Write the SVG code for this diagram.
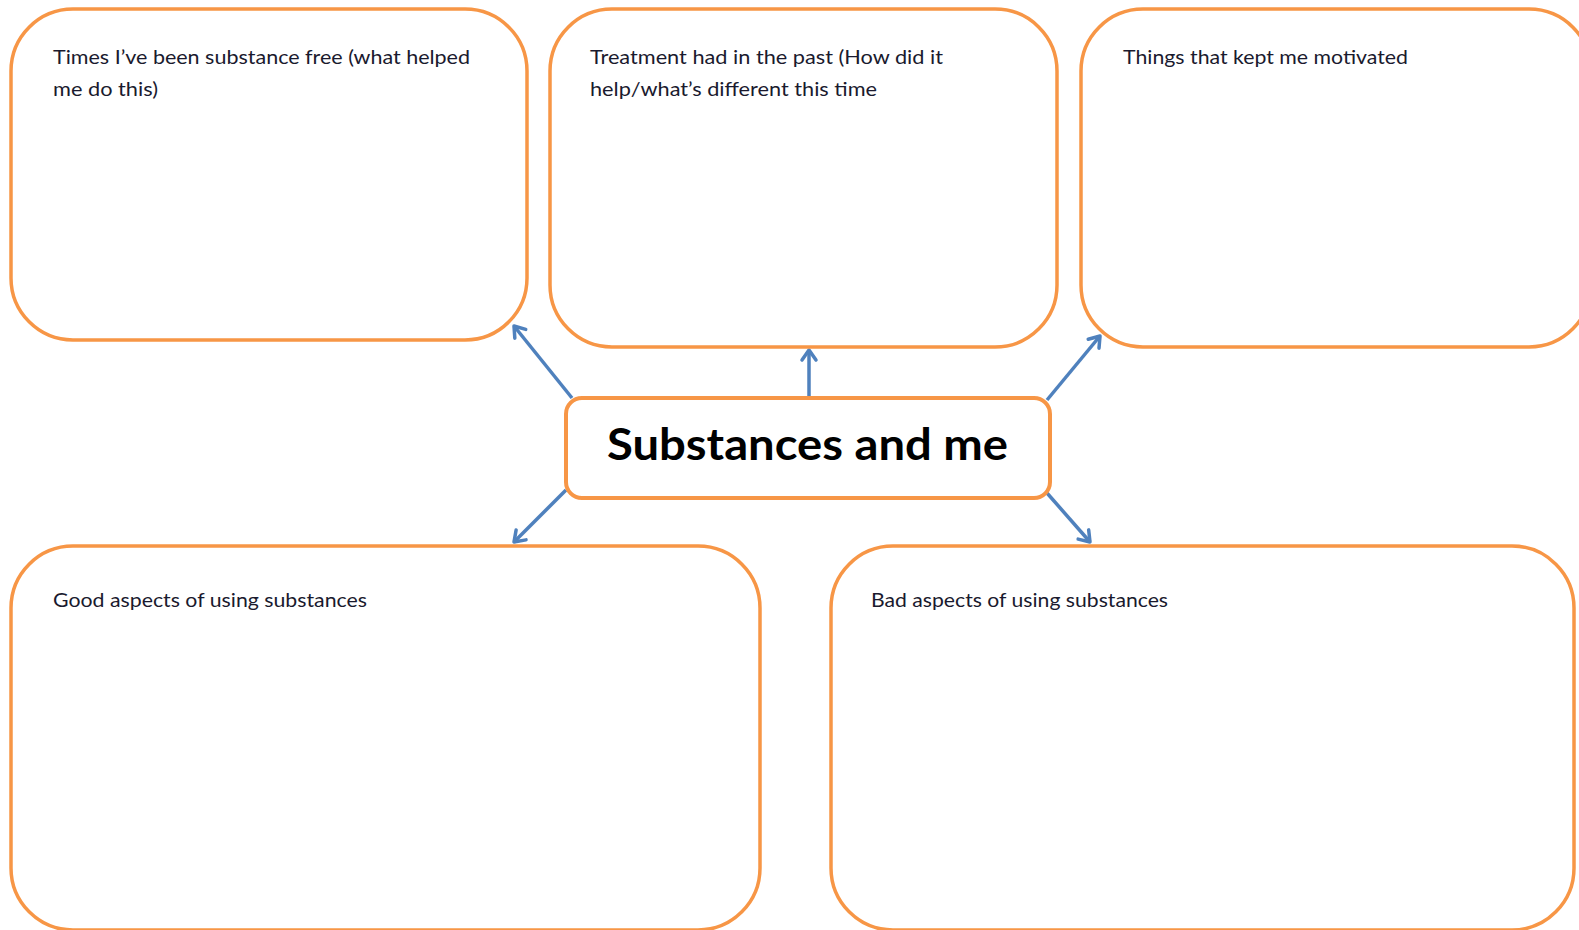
<svg xmlns="http://www.w3.org/2000/svg" width="1579" height="930" viewBox="0 0 1579 930">
<style>
.box{fill:#fff;stroke:#F79646;stroke-width:3.5}
.lbl{font-family:Lato,"Liberation Sans",sans-serif;font-size:20px;fill:#1a1a2e}
.title{font-family:Lato,"Liberation Sans",sans-serif;font-size:43px;font-weight:bold;fill:#000}
.conn{stroke:#4F81BD;stroke-width:3.5;fill:none;marker-end:url(#arr)}
</style>
<defs>
<marker id="arr" markerUnits="userSpaceOnUse" markerWidth="24" markerHeight="24" refX="14" refY="10" orient="auto" viewBox="0 0 24 20">
<path d="M4,3 L14,10 L4,17" fill="none" stroke="#4F81BD" stroke-width="3.5" stroke-linecap="round" stroke-linejoin="round"/>
</marker>
</defs>
<rect width="1579" height="930" fill="#fff"/>
<g id="connectors">
<line class="conn" x1="572" y1="398" x2="514" y2="326"/>
<line class="conn" x1="809" y1="398" x2="809" y2="350"/>
<line class="conn" x1="1047" y1="400" x2="1100" y2="336"/>
<line class="conn" x1="566" y1="490" x2="514" y2="542"/>
<line class="conn" x1="1047" y1="493" x2="1090" y2="542"/>
</g>
<g id="node-free">
<rect class="box" x="11" y="9" width="516" height="331" rx="62"/>
<text class="lbl" x="53" y="64" textLength="417" lengthAdjust="spacingAndGlyphs">Times I’ve been substance free (what helped</text>
<text class="lbl" x="53" y="96" textLength="105" lengthAdjust="spacingAndGlyphs">me do this)</text>
</g>
<g id="node-treatment">
<rect class="box" x="550" y="9" width="507" height="338" rx="62"/>
<text class="lbl" x="590" y="64" textLength="353" lengthAdjust="spacingAndGlyphs">Treatment had in the past (How did it</text>
<text class="lbl" x="590" y="96" textLength="287" lengthAdjust="spacingAndGlyphs">help/what’s different this time</text>
</g>
<g id="node-motivated">
<rect class="box" x="1081" y="9" width="510" height="338" rx="62"/>
<text class="lbl" x="1123" y="64" textLength="285" lengthAdjust="spacingAndGlyphs">Things that kept me motivated</text>
</g>
<g id="node-center">
<rect class="box" x="566" y="398" width="484" height="100" rx="16" style="stroke-width:4"/>
<text class="title" x="607" y="460" textLength="401" lengthAdjust="spacingAndGlyphs">Substances and me</text>
</g>
<g id="node-good">
<rect class="box" x="11" y="546" width="749" height="384" rx="62"/>
<text class="lbl" x="53" y="607" textLength="314" lengthAdjust="spacingAndGlyphs">Good aspects of using substances</text>
</g>
<g id="node-bad">
<rect class="box" x="831" y="546" width="743" height="384" rx="62"/>
<text class="lbl" x="871" y="607" textLength="297" lengthAdjust="spacingAndGlyphs">Bad aspects of using substances</text>
</g>
</svg>
